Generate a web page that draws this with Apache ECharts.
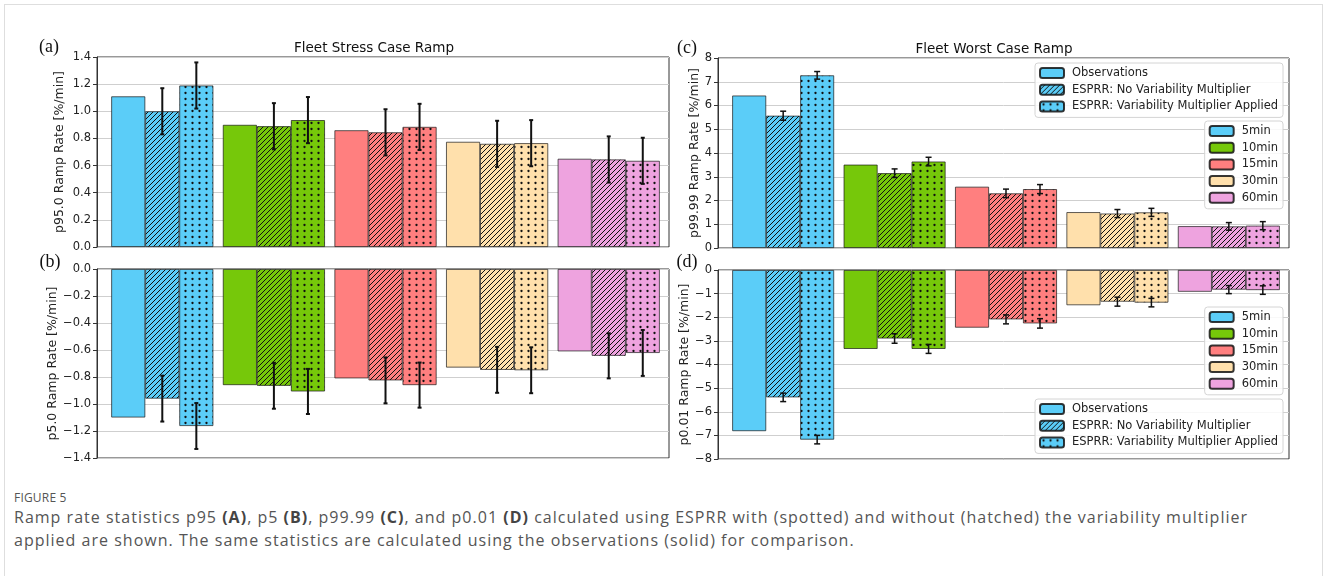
<!DOCTYPE html>
<html>
<head>
<meta charset="utf-8">
<title>Ramp rate statistics</title>
<script src="https://cdn.jsdelivr.net/npm/echarts@6/dist/echarts.min.js"></script>
<style>
    html, body { margin: 0; padding: 0; background: #fff; }
    #frame {
        position: absolute; left: 4px; top: 4px; width: 1319px; height: 620px;
        border: 1px solid #dedede; box-sizing: border-box;
    }
    #main-chart { position: absolute; left: 0; top: 0; width: 1328px; height: 480px; }
    #caption {
        position: absolute; left: 14px; top: 489px; width: 1305px;
        font-family: "Open Sans", "Noto Sans", sans-serif; color: #555;
    }
    #caption .fig { font-size: 12px; line-height: 18px; letter-spacing: 0.2px; }
    #caption .txt { font-size: 16px; line-height: 23px; margin-top: -1px; white-space: nowrap; }
    #caption b { font-weight: 700; color: #444; }
</style>
</head>
<body>
<div id="frame"></div>
<div id="main-chart"></div>
<div id="caption">
    <div class="fig">FIGURE 5</div>
    <div class="txt"><span id="cap1">Ramp rate statistics p95 <b>(A)</b>, p5 <b>(B)</b>, p99.99 <b>(C)</b>, and p0.01 <b>(D)</b> calculated using ESPRR with (spotted) and without (hatched) the variability multiplier</span><br>applied are shown. The same statistics are calculated using the observations (solid) for comparison.</div>
</div>
<script>
// ramp durations (x groups) and their colours
const durations = ['5min', '10min', '15min', '30min', '60min'];
const durationColors = ['#5bcdf8', '#76c80a', '#ff7f7f', '#ffe0ac', '#eea3df'];
const methods = ['Observations', 'ESPRR: No Variability Multiplier', 'ESPRR: Variability Multiplier Applied'];

// (a) p95.0 - Fleet Stress Case Ramp
const p95Obs = [1.11, 0.90, 0.86, 0.775, 0.65];
const p95NoMult = [1.00, 0.89, 0.845, 0.76, 0.645];
const p95NoMultErr = [0.17, 0.17, 0.17, 0.17, 0.17];
const p95Mult = [1.19, 0.935, 0.885, 0.765, 0.635];
const p95MultErr = [0.17, 0.17, 0.17, 0.17, 0.17];

// (b) p5.0
const p5Obs = [-1.10, -0.86, -0.81, -0.73, -0.61];
const p5NoMult = [-0.96, -0.865, -0.825, -0.747, -0.643];
const p5NoMultErr = [0.17, 0.17, 0.17, 0.17, 0.167];
const p5Mult = [-1.163, -0.907, -0.86, -0.75, -0.622];
const p5MultErr = [0.17, 0.167, 0.167, 0.17, 0.17];

// (c) p99.99 - Fleet Worst Case Ramp
const p9999Obs = [6.42, 3.51, 2.58, 1.51, 0.92];
const p9999NoMult = [5.57, 3.15, 2.30, 1.45, 0.91];
const p9999NoMultErr = [0.19, 0.18, 0.18, 0.17, 0.16];
const p9999Mult = [7.27, 3.64, 2.48, 1.50, 0.94];
const p9999MultErr = [0.16, 0.18, 0.19, 0.17, 0.17];

// (d) p0.01
const p001Obs = [-6.82, -3.34, -2.44, -1.49, -0.92];
const p001NoMult = [-5.39, -2.90, -2.09, -1.34, -0.83];
const p001NoMultErr = [0.18, 0.20, 0.19, 0.19, 0.17];
const p001Mult = [-7.18, -3.34, -2.26, -1.38, -0.85];
const p001MultErr = [0.18, 0.19, 0.20, 0.18, 0.18];

// y axis ticks per panel [min, max, interval, decimals]
const yTicksA = [0, 1.4, 0.2, 1];
const yTicksB = [-1.4, 0, 0.2, 1];
const yTicksC = [0, 8, 1, 0];
const yTicksD = [-8, 0, 1, 0];

(function () {
    'use strict';

    const BAR_W = 0.305;          // bar width as a fraction of group spacing
    const FONT = '"DejaVu Sans", "Noto Sans", sans-serif';
    const EDGE = 'rgba(20,20,20,0.85)';

    // stretch the first caption line to the width it has in the figure
    const cap1 = document.getElementById('cap1');
    const capW = cap1.getBoundingClientRect().width;
    const capChars = cap1.textContent.length;
    cap1.parentNode.style.letterSpacing = ((1234 - capW) / capChars).toFixed(3) + 'px';

    // canvas tile fills: solid, hatched ('///') and dotted ('..')
    const fillCache = {};
    function makeFill(color, kind) {
        const key = color + kind;
        if (fillCache[key]) return fillCache[key];
        if (kind === 'solid') return (fillCache[key] = color);
        const c = document.createElement('canvas');
        const g = c.getContext('2d');
        if (kind === 'hatch') {
            const s = 5;
            c.width = s; c.height = s;
            g.fillStyle = color; g.fillRect(0, 0, s, s);
            g.strokeStyle = '#111'; g.lineWidth = 1;
            g.beginPath();
            g.moveTo(-1, s + 1); g.lineTo(s + 1, -1);
            g.moveTo(-1, 1); g.lineTo(1, -1);
            g.moveTo(s - 1, s + 1); g.lineTo(s + 1, s - 1);
            g.stroke();
        } else {
            const s = 7;
            c.width = s; c.height = 6;
            g.fillStyle = color; g.fillRect(0, 0, s, 6);
            g.fillStyle = '#111';
            g.beginPath(); g.arc(3.5, 3, 1.15, 0, Math.PI * 2); g.fill();
        }
        return (fillCache[key] = { image: c, repeat: 'repeat' });
    }

    function barSeries(gi, name, values, kind) {
        return {
            type: 'bar', name: name, xAxisIndex: gi, yAxisIndex: gi,
            barWidth: (BAR_W * 100) + '%', barGap: '0%',
            itemStyle: { color: makeFill(durationColors[0], kind), borderColor: EDGE, borderWidth: 0.8 },
            data: values.map((v, i) => ({ value: [i, v], itemStyle: { color: makeFill(durationColors[i], kind) } })),
            emphasis: { disabled: true },
            z: 2
        };
    }

    // error bars drawn on top of the bar in slot (0 = hatched centre bar, 1 = dotted right bar)
    function errSeries(gi, values, errs, slot, capHalf, lw) {
        return {
            type: 'custom', xAxisIndex: gi, yAxisIndex: gi, silent: true, z: 10,
            encode: { x: 0, y: [1, 2] },
            data: values.map((v, i) => [i + slot * BAR_W, v - errs[i], v + errs[i]]),
            renderItem: function (params, api) {
                const lo = api.coord([api.value(0), api.value(1)]);
                const hi = api.coord([api.value(0), api.value(2)]);
                const st = { stroke: '#111', lineWidth: lw };
                return {
                    type: 'group',
                    children: [
                        { type: 'line', shape: { x1: hi[0], y1: hi[1], x2: lo[0], y2: lo[1] }, style: st },
                        { type: 'line', shape: { x1: hi[0] - capHalf, y1: hi[1], x2: hi[0] + capHalf, y2: hi[1] }, style: st },
                        { type: 'line', shape: { x1: lo[0] - capHalf, y1: lo[1], x2: lo[0] + capHalf, y2: lo[1] }, style: st }
                    ]
                };
            }
        };
    }

    function fmtTick(dec) {
        return function (v) {
            const s = Math.abs(v).toFixed(dec);
            return (v < -1e-9 ? '\u2212' : '') + s;
        };
    }

    const grids = [
        { left: 97, top: 57, width: 572, height: 190 },
        { left: 97, top: 269, width: 572, height: 189 },
        { left: 718, top: 58, width: 571, height: 190 },
        { left: 718, top: 270, width: 571, height: 189 },
        { left: -300, top: -300, width: 20, height: 20, show: false }   // holder for legend-only series
    ].map(g => Object.assign({ show: true, borderColor: '#333', borderWidth: 1, backgroundColor: 'transparent' }, g));

    const xAxes = grids.map((g, gi) => ({
        type: 'value', gridIndex: gi, min: -0.585, max: 4.54,
        axisLine: { show: false }, axisTick: { show: false }, axisLabel: { show: false },
        splitLine: { show: false }
    }));

    const yNames = ['p95.0 Ramp Rate [%/min]', 'p5.0 Ramp Rate [%/min]', 'p99.99 Ramp Rate [%/min]', 'p0.01 Ramp Rate [%/min]'];
    const yTicks = [yTicksA, yTicksB, yTicksC, yTicksD];
    const nameGaps = [31, 35, 17, 26];
    const yAxes = yTicks.map((t, gi) => ({
        type: 'value', gridIndex: gi, min: t[0], max: t[1], interval: t[2],
        name: yNames[gi], nameLocation: 'middle', nameGap: nameGaps[gi],
        nameTextStyle: { fontFamily: FONT, fontSize: 12.5, color: '#222' },
        axisLine: { show: true, onZero: false, lineStyle: { color: '#333', width: 1 } },
        axisTick: { show: true, length: 4, lineStyle: { color: '#333' } },
        axisLabel: { fontFamily: FONT, fontSize: 11.5, color: '#222', margin: 6, formatter: fmtTick(t[3]) },
        splitLine: { show: true, lineStyle: { color: '#cfcfcf', width: 1 } }
    }));
    yAxes.push({ type: 'value', gridIndex: 4, show: false });

    const panels = [
        [p95Obs, p95NoMult, p95NoMultErr, p95Mult, p95MultErr, 2, 2],
        [p5Obs, p5NoMult, p5NoMultErr, p5Mult, p5MultErr, 2, 2],
        [p9999Obs, p9999NoMult, p9999NoMultErr, p9999Mult, p9999MultErr, 3, 1.5],
        [p001Obs, p001NoMult, p001NoMultErr, p001Mult, p001MultErr, 3, 1.5]
    ];

    const series = [];
    panels.forEach((p, gi) => {
        series.push(barSeries(gi, methods[0], p[0], 'solid'));
        series.push(barSeries(gi, methods[1], p[1], 'hatch'));
        series.push(barSeries(gi, methods[2], p[3], 'dot'));
        series.push(errSeries(gi, p[1], p[2], 0, p[5], p[6]));
        series.push(errSeries(gi, p[3], p[4], 1, p[5], p[6]));
    });
    // empty series, only there to give the duration legend its colour swatches
    durations.forEach((d, i) => {
        series.push({
            type: 'bar', name: d, xAxisIndex: 4, yAxisIndex: 4, data: [],
            itemStyle: { color: durationColors[i], borderColor: EDGE, borderWidth: 0.8 }
        });
    });

    function legend(names, top) {
        return {
            data: names, orient: 'vertical', right: 45, top: top,
            itemWidth: 24, itemHeight: 10, itemGap: 4.7, selectedMode: false,
            padding: [4, 5, 5, 4], backgroundColor: 'rgba(255,255,255,0.85)',
            borderColor: '#d4d4d4', borderWidth: 1, borderRadius: 3,
            textStyle: { fontFamily: FONT, fontSize: 11.5, lineHeight: 12, color: '#222', padding: [0, 0, 0, 3] }
        };
    }

    function label(text, x, y, font, anchor) {
        return {
            type: 'text', x: x, y: y, z: 100,
            style: { text: text, font: font, fill: '#111', align: anchor || 'center', verticalAlign: 'middle' }
        };
    }

    const titleFont = '13.5px "DejaVu Sans", sans-serif';
    const tagFont = '18px "Liberation Serif", "DejaVu Serif", serif';

    const option = {
        animation: false,
        grid: grids,
        xAxis: xAxes,
        yAxis: yAxes,
        series: series,
        legend: [
            legend(methods, 63),
            legend(durations, 121),
            legend(durations, 307),
            legend(methods, 399)
        ],
        graphic: [
            label('Fleet Stress Case Ramp', 374, 48, titleFont),
            label('Fleet Worst Case Ramp', 994, 49, titleFont),
            label('(a)', 49, 47, tagFont),
            label('(b)', 50, 262, tagFont),
            label('(c)', 687, 48, tagFont),
            label('(d)', 687, 262, tagFont)
        ]
    };

    const chart = echarts.init(document.getElementById('main-chart'), null, { renderer: 'canvas' });
    chart.setOption(option);
})();
</script>
</body>
</html>
